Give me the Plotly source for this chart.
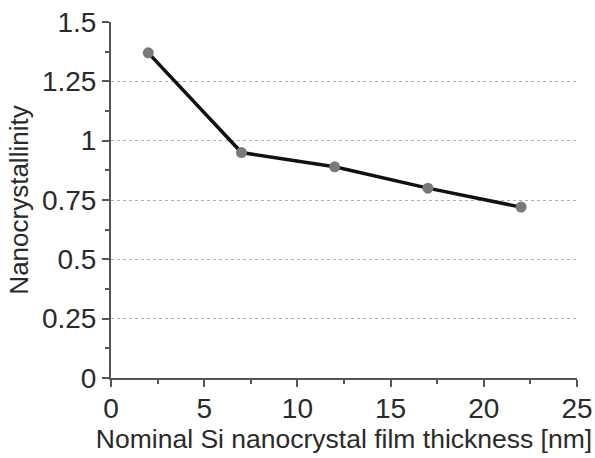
import plotly.graph_objects as go

# Nominal film thickness [nm] and measured nanocrystallinity
thickness_nm = [2, 7, 12, 17, 22]
nanocrystallinity = [1.37, 0.95, 0.89, 0.80, 0.72]

y_ticks = [0, 0.25, 0.5, 0.75, 1, 1.25, 1.5]
y_tick_text = ["0", "0.25", "0.5", "0.75", "1", "1.25", "1.5"]
x_ticks = [0, 5, 10, 15, 20, 25]

axis_color = "#555555"
text_color = "#2a2a2a"
font_family = "Liberation Sans"

fig = go.Figure()
fig.add_trace(go.Scatter(
    x=thickness_nm,
    y=nanocrystallinity,
    mode="lines+markers",
    line=dict(color="#111111", width=3.5),
    marker=dict(color="#7a7a7a", size=11),
    showlegend=False,
))

fig.update_layout(
    width=595,
    height=458,
    margin=dict(l=111, r=18, t=22, b=80, autoexpand=False),
    paper_bgcolor="white",
    plot_bgcolor="white",
    font=dict(family=font_family, color=text_color, size=28),
)

fig.update_xaxes(
    range=[0, 25],
    tickvals=x_ticks,
    ticks="outside",
    ticklen=7,
    tickwidth=2,
    tickcolor=axis_color,
    ticklabelstandoff=-3,
    showline=True,
    linecolor=axis_color,
    linewidth=2,
    showgrid=False,
    zeroline=False,
    automargin=False,
    minor=dict(ticks="outside", dtick=2.5, tick0=0, ticklen=4, tickwidth=1.5, tickcolor=axis_color),
    tickfont=dict(family=font_family, size=28, color=text_color),
    title=dict(text="Nominal Si nanocrystal film thickness [nm]",
               font=dict(family=font_family, size=26.5, color=text_color), standoff=6),
)

fig.update_yaxes(
    range=[0, 1.5],
    tickvals=y_ticks,
    ticktext=y_tick_text,
    ticks="outside",
    ticklen=7,
    tickwidth=2,
    tickcolor=axis_color,
    showline=True,
    linecolor=axis_color,
    linewidth=2,
    showgrid=True,
    gridcolor="#b0b0b0",
    gridwidth=1,
    griddash="dot",
    zeroline=False,
    automargin=False,
    minor=dict(ticks="outside", dtick=0.125, tick0=0, ticklen=4, tickwidth=1.5, tickcolor=axis_color, showgrid=False),
    tickfont=dict(family=font_family, size=28, color=text_color),
    title=dict(text="Nanocrystallinity", font=dict(family=font_family, size=26, color=text_color), standoff=6),
)

fig.write_html("out.html")
